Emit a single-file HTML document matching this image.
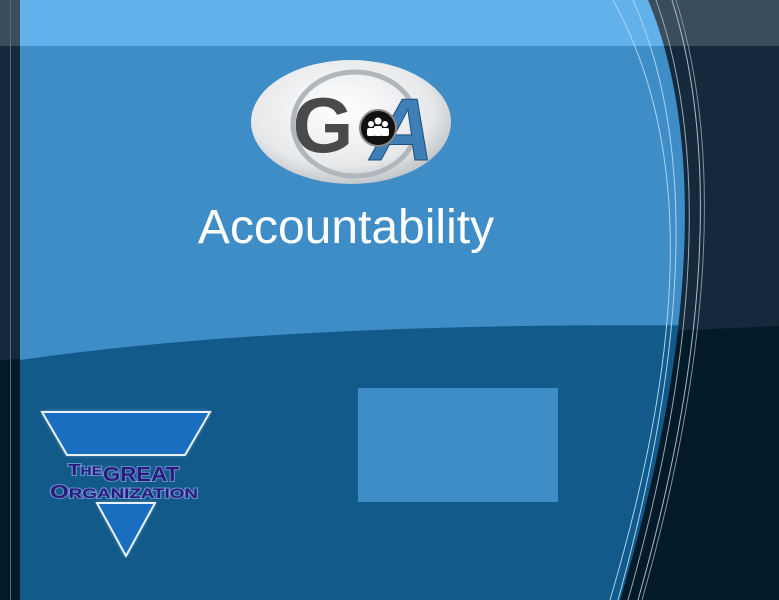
<!DOCTYPE html>
<html><head><meta charset="utf-8"><style>
html,body{margin:0;padding:0;width:779px;height:600px;overflow:hidden;background:#142a3c}
svg{display:block}
</style></head><body>
<svg width="779" height="600" viewBox="0 0 779 600">
<defs>
<radialGradient id="eg" cx="45%" cy="40%" r="65%"><stop offset="0" stop-color="#ffffff"/><stop offset="0.7" stop-color="#e6e8ea"/><stop offset="1" stop-color="#b8bcc0"/></radialGradient>
<clipPath id="blueclip"><path d="M20,0 L648,0 C702,130 700,330 620,600 L20,600 Z"/></clipPath>
<filter id="glow"><feGaussianBlur stdDeviation="2"/></filter>
</defs>
<rect x="0" y="0" width="779" height="600" fill="#142a3c"/>
<rect x="0" y="0" width="779" height="46" fill="#3a4d5c"/>
<path d="M0,360 L779,326 L779,600 L0,600 Z" fill="#031a28"/>
<line x1="10.5" y1="0" x2="10.5" y2="600" stroke="#5a6a76" stroke-width="1"/>
<g clip-path="url(#blueclip)">
<rect x="20" y="0" width="720" height="600" fill="#3f8dc6"/>
<rect x="20" y="0" width="720" height="46" fill="#62b1ea"/>
<path d="M20,360 Q300,320 740,326 L740,600 L20,600 Z" fill="#115a8a"/>
</g>
<g fill="none">
<path d="M613,0 C690,140 690,330 610,600" stroke="#a8d4f0" stroke-width="1"/>
<path d="M633,0 C695,140 690,340 618,600" stroke="#a8d4f0" stroke-width="1"/>
<path d="M656,0 C706,140 702,340 628,600" stroke="#9aa8b2" stroke-width="1"/>
<path d="M672,0 C716,140 712,340 638,600" stroke="#b0bac2" stroke-width="1"/>
<path d="M676,0 C720,140 716,340 642,600" stroke="#8090a0" stroke-width="1"/>
</g>
<g>
<ellipse cx="351" cy="122" rx="100" ry="62" fill="url(#eg)"/>
<ellipse cx="355" cy="124" rx="62" ry="52" fill="none" stroke="#b0b6bc" stroke-width="5"/>
<text x="323" y="152" font-family="Liberation Sans, sans-serif" font-weight="bold" font-size="78" fill="#4a4a4a" text-anchor="middle">G</text>
<text x="402" y="160" font-family="Liberation Sans, sans-serif" font-weight="bold" font-style="italic" font-size="88" fill="#3f7fb8" stroke="#1e4e7a" stroke-width="1" text-anchor="middle">A</text>
<circle cx="378" cy="128" r="18" fill="#111" stroke="#888" stroke-width="2"/>
<circle cx="371" cy="124" r="3" fill="#fff"/><circle cx="378" cy="121" r="3.5" fill="#fff"/><circle cx="385" cy="124" r="3" fill="#fff"/>
<rect x="367" y="128" width="8" height="8" rx="2" fill="#fff"/><rect x="374" y="126" width="8" height="10" rx="2" fill="#fff"/><rect x="381" y="128" width="8" height="8" rx="2" fill="#fff"/>
</g>
<text x="346" y="243" font-family="Liberation Sans, sans-serif" font-size="48" fill="#ffffff" text-anchor="middle">Accountability</text>
<rect x="358" y="388" width="200" height="114" fill="#3f8dc6"/>
<g>
<path d="M42,412 L210,412 L185,455 L67,455 Z" fill="#fff" opacity="0.5" filter="url(#glow)"/>
<path d="M42,412 L210,412 L185,455 L67,455 Z" fill="#1a6ec0" stroke="#e8f0ff" stroke-width="2"/>
<path d="M97,503 L155,503 L126,556 Z" fill="#fff" opacity="0.5" filter="url(#glow)"/>
<path d="M97,503 L155,503 L126,556 Z" fill="#1a6ec0" stroke="#e8f0ff" stroke-width="2"/>
<g font-family="Liberation Sans, sans-serif" font-weight="bold" fill="#2a1a7e" stroke="#b8c4ff" stroke-width="2" stroke-opacity="0.5" paint-order="stroke">
<text x="68" y="475" font-size="16" textLength="34" lengthAdjust="spacingAndGlyphs">T<tspan font-size="12">HE</tspan></text>
<text x="103" y="481" font-size="20" textLength="76" lengthAdjust="spacingAndGlyphs">GREAT</text>
<text x="50" y="498" font-size="18" textLength="148" lengthAdjust="spacingAndGlyphs">O<tspan font-size="14">RGANIZATION</tspan></text>
</g>
</g>
</svg>
</body></html>
